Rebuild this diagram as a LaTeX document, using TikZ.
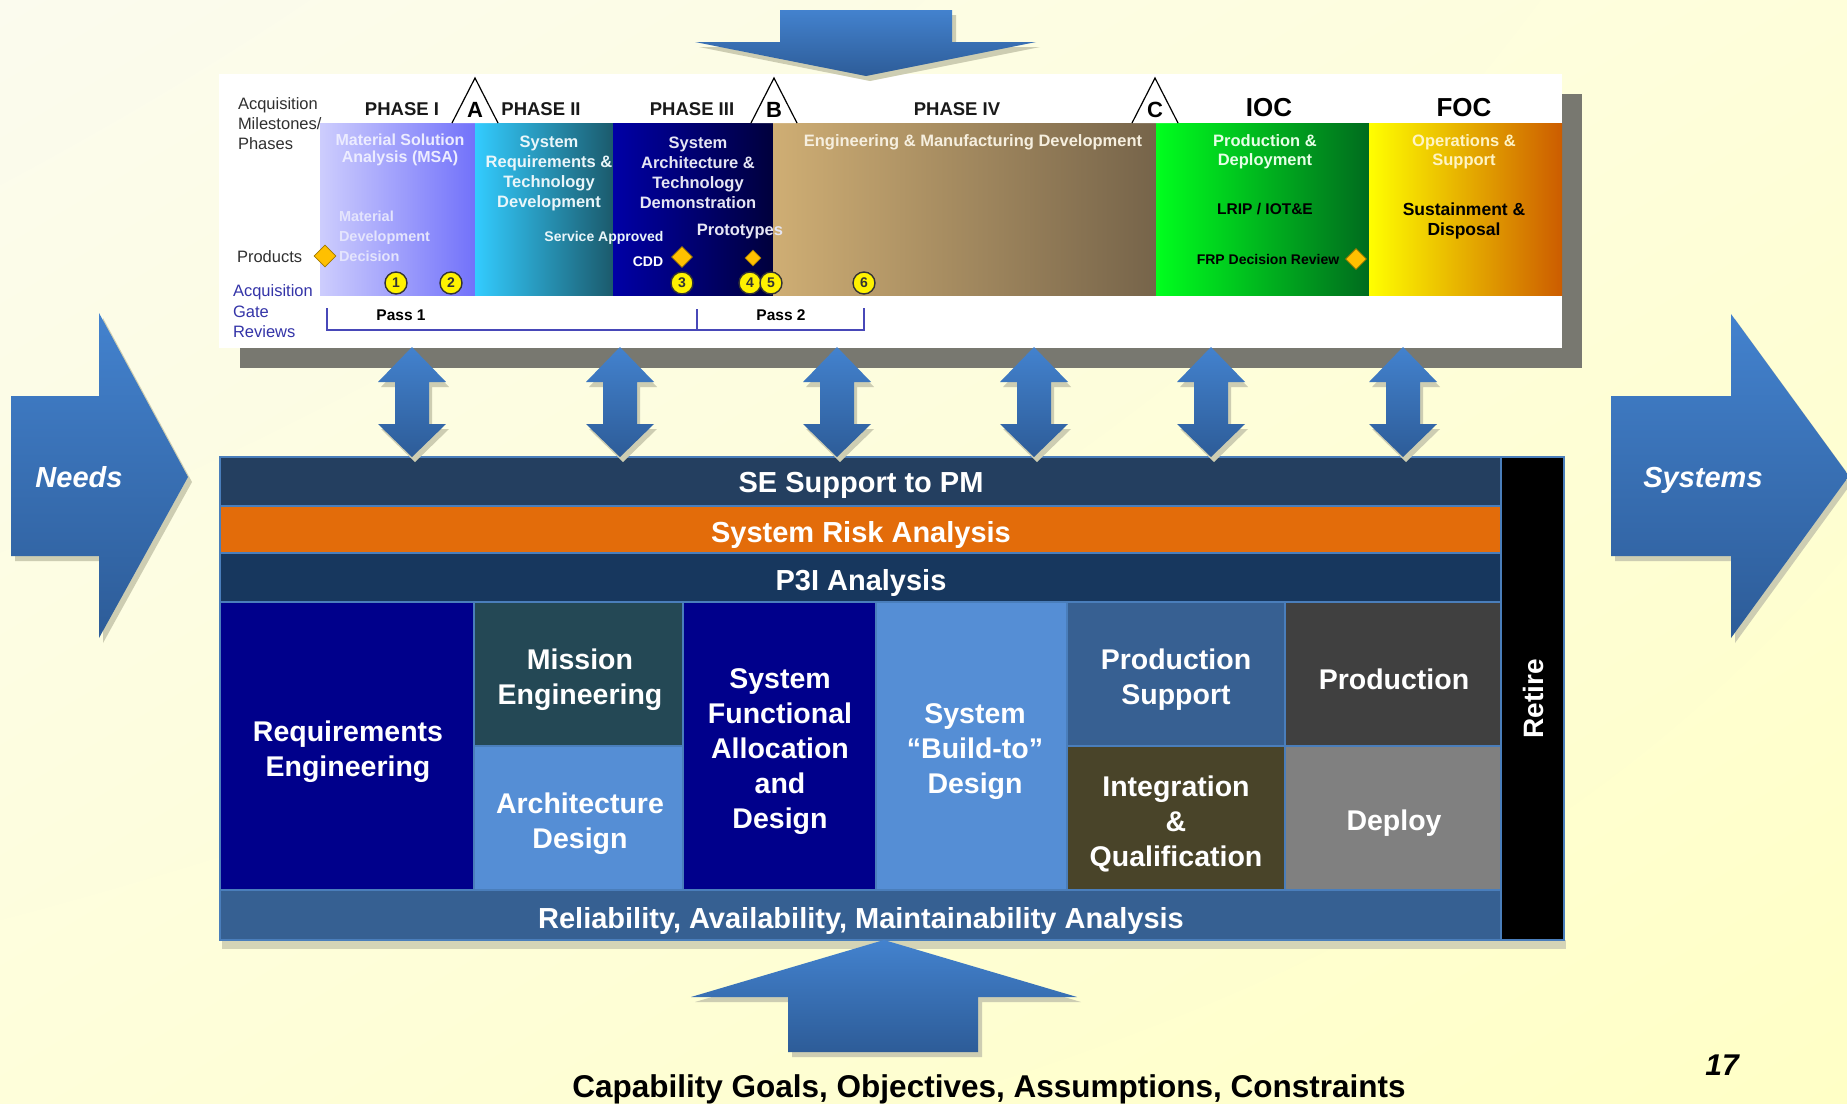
\documentclass[tikz,border=0pt]{standalone}
\usepackage{fontspec}
\setmainfont{Liberation Sans}
\usetikzlibrary{shapes.geometric,shadings}
\definecolor{bgA}{HTML}{FBFBEE}
\definecolor{bgB}{HTML}{FFFFC6}
\definecolor{bgM}{HTML}{FEFEDA}
\definecolor{arrA}{HTML}{4382CE}
\definecolor{arrB}{HTML}{2D5C98}
\definecolor{arrShadow}{HTML}{CDCDB2}
\definecolor{panelShadow}{HTML}{787870}
\definecolor{p1L}{HTML}{CDCDFD}
\definecolor{p1M}{HTML}{A2A2FF}
\definecolor{p1R}{HTML}{7272FA}
\definecolor{p2L}{HTML}{33CCFF}
\definecolor{p2R}{HTML}{1B5A6C}
\definecolor{p3L}{HTML}{0000A6}
\definecolor{p3R}{HTML}{00003C}
\definecolor{p4L}{HTML}{CFAE74}
\definecolor{p4R}{HTML}{76644A}
\definecolor{iocL}{HTML}{00FF1E}
\definecolor{iocR}{HTML}{006B1E}
\definecolor{focL}{HTML}{FFFF00}
\definecolor{focR}{HTML}{CC5C00}
\definecolor{gold}{HTML}{FFC000}
\definecolor{goldLine}{HTML}{A07800}
\definecolor{gateBlue}{HTML}{3434A8}
\definecolor{bracketC}{HTML}{4848B8}
\definecolor{labelGray}{HTML}{303030}
\definecolor{seC}{HTML}{243F60}
\definecolor{riskC}{HTML}{E36C0A}
\definecolor{p3iC}{HTML}{17375E}
\definecolor{navyC}{HTML}{00008B}
\definecolor{tealC}{HTML}{244855}
\definecolor{midBlue}{HTML}{558ED5}
\definecolor{prodSupC}{HTML}{376092}
\definecolor{oliveC}{HTML}{494429}
\definecolor{darkGrayC}{HTML}{404040}
\definecolor{grayC}{HTML}{808080}
\definecolor{ramC}{HTML}{366092}
\definecolor{cellLine}{HTML}{4A7EBB}
\definecolor{blockShadow}{HTML}{D4D4B6}
\definecolor{msaTxt}{HTML}{ECECFF}
\definecolor{mddTxt}{HTML}{E4E4FC}
\definecolor{p2Txt}{HTML}{EAF6FA}
\definecolor{p3Txt}{HTML}{E6E6F4}
\definecolor{p4Txt}{HTML}{F6EFDF}
\definecolor{iocTxt}{HTML}{E6FFE6}
\definecolor{focTxt}{HTML}{FFF4C4}
\newcommand\myfs[2]{\fontsize{#1}{#2}\selectfont}
\def\topArrowPath{(780,10) -- (952,10) -- (952,42) -- (1036,42) -- (866,76) -- (695,42) -- (780,42) -- cycle}
\def\needsPath{(11,396) -- (99,396) -- (99,313) -- (188,477) -- (99,638) -- (99,556) -- (11,556) -- cycle}
\def\systemsPath{(1611,396) -- (1731,396) -- (1731,314) -- (1849,476) -- (1731,638) -- (1731,556) -- (1611,556) -- cycle}
\def\bottomArrowPath{(884,940) -- (1077,997) -- (978,997) -- (978,1052) -- (788,1052) -- (788,997) -- (691,997) -- cycle}
\begin{document}
\begin{tikzpicture}[x=1pt,y=-1pt,
  tx/.style={inner sep=0pt,outer sep=0pt,align=center},
  hdr/.style={tx,font=\myfs{18.5}{20}\bfseries,text=black!90},
  bartext/.style={tx,font=\myfs{16.5}{20}\bfseries},
  sidelabel/.style={tx,font=\myfs{16.5}{19.5},align=left,anchor=west},
  numcircle/.style={circle,draw=black!80,line width=1.4pt,fill=yellow,minimum size=22pt,inner sep=0pt,font=\myfs{14}{14}\bfseries,text=black!80},
  gem/.style={diamond,draw=goldLine,line width=0.8pt,fill=gold,minimum width=#1,minimum height=#1,inner sep=0pt},
  bigtext/.style={tx,font=\myfs{28.5}{35}\bfseries,text=white},
  bandtext/.style={tx,font=\myfs{29}{35}\bfseries,text=white},
  cell/.style={draw=cellLine,line width=2pt},
  arrowfill/.style={top color=arrA,bottom color=arrB},
  arrowshadow/.style={fill=arrShadow},
  milestone/.style={fill=white,draw=black,line width=1.2pt,line join=miter},
  triletter/.style={tx,font=\myfs{22}{22}\bfseries}
]
\useasboundingbox (0,0) rectangle (1847,1103);
% background
\shade[upper left=bgA, upper right=bgM, lower left=bgM, lower right=bgB] (0,0) rectangle (1847,1103);

% ---------------- top panel ----------------
\fill[panelShadow] (240,94) rectangle (1582,368);
\fill[white] (219,74) rectangle (1562,348);

% side labels (drawn before bars)
\node[sidelabel,text=labelGray] (acq1) at (238,105) {Acquisition};
\node[sidelabel,text=labelGray] (acq2) at (238,124) {Milestones/};
\node[sidelabel,text=labelGray] (acq3) at (238,144) {Phases};
\node[sidelabel,text=labelGray] (prod) at (237,257) {Products};
\node[sidelabel,text=gateBlue] (gate1) at (233,292) {Acquisition};
\node[sidelabel,text=gateBlue] (gate2) at (233,312) {Gate};
\node[sidelabel,text=gateBlue] (gate3) at (233,332) {Reviews};

% phase bars
\shade[left color=p1L,middle color=p1M,right color=p1R] (320,123) rectangle (475,295);
\shade[left color=p2L,right color=p2R] (475,123) rectangle (613,295);
\shade[left color=p3L,right color=p3R] (613,123) rectangle (773,295);
\shade[left color=p4L,right color=p4R] (773,123) rectangle (1156,295);
\shade[left color=iocL,right color=iocR] (1156,123) rectangle (1369,295);
\shade[left color=focL,right color=focR] (1369,123) rectangle (1562,295);

% headers
\node[hdr] (ph1) at (402,109) {PHASE I};
\node[hdr] (ph2) at (541,109) {PHASE II};
\node[hdr] (ph3) at (692,109) {PHASE III};
\node[hdr] (ph4) at (957,109) {PHASE IV};
\node[tx,font=\myfs{26}{26}\bfseries] (ioc) at (1269,108) {IOC};
\node[tx,font=\myfs{26}{26}\bfseries] (foc) at (1464,108) {FOC};

% milestone triangles
\draw[milestone] (452,123) -- (475,78) -- (498,123);
\node[triletter] (msA) at (475,110) {A};
\draw[milestone] (751,123) -- (774,78) -- (797,123);
\node[triletter] (msB) at (774,110) {B};
\draw[milestone] (1132,123) -- (1155,78) -- (1178,123);
\node[triletter] (msC) at (1155,110) {C};

% bar texts
\node[tx,font=\myfs{16}{17}\bfseries,text=msaTxt] (msa) at (400,150) {Material Solution\\Analysis (MSA)};
\node[tx,font=\myfs{14.5}{20}\bfseries,text=mddTxt,align=left,anchor=west] (mdd) at (339,236) {Material\\Development\\Decision};
\node[bartext,text=p2Txt] (p2t) at (549,173) {System\\Requirements \&\\Technology\\Development};
\node[bartext,text=p3Txt] (p3t) at (698,173) {System\\Architecture \&\\Technology\\Demonstration};
\node[tx,font=\myfs{14}{16}\bfseries,text=p2Txt] (svc) at (604,238) {Service Approved};
\node[tx,font=\myfs{16.5}{18}\bfseries,text=p3Txt] (proto) at (740,232) {Prototypes};
\node[tx,font=\myfs{14}{16}\bfseries,text=white] (cdd) at (648,262) {CDD};
\node[tx,font=\myfs{16.5}{18}\bfseries,text=p4Txt] (emd) at (973,142) {Engineering \& Manufacturing Development};
\node[tx,font=\myfs{16.5}{19}\bfseries,text=iocTxt] (pd) at (1265,152) {Production \&\\Deployment};
\node[tx,font=\myfs{15.5}{18}\bfseries,text=black] (lrip) at (1265,209) {LRIP / IOT\&E};
\node[tx,font=\myfs{14}{16}\bfseries,text=black] (frp) at (1268,259) {FRP Decision Review};
\node[tx,font=\myfs{16.5}{19}\bfseries,text=focTxt] (os) at (1464,152) {Operations \&\\Support};
\node[tx,font=\myfs{17.5}{20}\bfseries,text=black] (sd) at (1464,221) {Sustainment \&\\Disposal};

% diamonds
\node[gem=22pt] (dProd) at (325,256) {};
\node[gem=21pt] (dCdd) at (682,257) {};
\node[gem=16pt] (dProto) at (753,258) {};
\node[gem=21pt] (dFrp) at (1356,259) {};

% numbered circles
\node[numcircle] (c1) at (396,283) {1};
\node[numcircle] (c2) at (451,283) {2};
\node[numcircle] (c3) at (682,283) {3};
\node[numcircle] (c4) at (750,283) {4};
\node[numcircle] (c5) at (771,283) {5};
\node[numcircle] (c6) at (864,283) {6};

% gate review bracket
\draw[bracketC,line width=2pt] (327,308) -- (327,330) -- (864,330) -- (864,308);
\draw[bracketC,line width=1.5pt] (697,309) -- (697,330);
\node[tx,font=\myfs{15.5}{17}\bfseries] (pass1) at (401,315) {Pass 1};
\node[tx,font=\myfs{15.5}{17}\bfseries] (pass2) at (781,315) {Pass 2};

% top arrow
\fill[arrowshadow,shift={(4,5)}] \topArrowPath;
\shade[arrowfill] \topArrowPath;

% ---------------- lower block ----------------
\fill[blockShadow] (222,940) rectangle (1566,949);
\filldraw[cell,fill=seC] (220,457) rectangle (1501,506);
\filldraw[cell,fill=riskC] (220,506) rectangle (1501,553);
\filldraw[cell,fill=p3iC] (220,553) rectangle (1501,602);
\filldraw[cell,fill=navyC] (220,602) rectangle (474,890);
\filldraw[cell,fill=tealC] (474,602) rectangle (683,746);
\filldraw[cell,fill=midBlue] (474,746) rectangle (683,890);
\filldraw[cell,fill=navyC] (683,602) rectangle (876,890);
\filldraw[cell,fill=midBlue] (876,602) rectangle (1067,890);
\filldraw[cell,fill=prodSupC] (1067,602) rectangle (1285,746);
\filldraw[cell,fill=oliveC] (1067,746) rectangle (1285,890);
\filldraw[cell,fill=darkGrayC] (1285,602) rectangle (1501,746);
\filldraw[cell,fill=grayC] (1285,746) rectangle (1501,890);
\filldraw[cell,fill=ramC] (220,890) rectangle (1501,940);
\filldraw[cell,fill=black] (1501,457) rectangle (1564,940);

\node[bandtext] (se) at (861,485.5) {SE Support to PM};
\node[bandtext] (risk) at (861,534.5) {System Risk Analysis};
\node[bandtext] (p3i) at (861,582.5) {P3I Analysis};
\node[bandtext] (ram) at (861,920.5) {Reliability, Availability, Maintainability Analysis};
\node[bigtext] (req) at (348,751.5) {Requirements\\Engineering};
\node[bigtext] (mission) at (580,679.5) {Mission\\Engineering};
\node[bigtext] (arch) at (580,823.5) {Architecture\\Design};
\node[bigtext] (sfad) at (780,751.5) {System\\Functional\\Allocation\\and\\Design};
\node[bigtext] (build) at (975,751.5) {System\\“Build-to”\\Design};
\node[bigtext] (psup) at (1176,679.5) {Production\\Support};
\node[bigtext] (iq) at (1176,823.5) {Integration\\\&\\Qualification};
\node[bigtext] (production) at (1394,679.5) {Production};
\node[bigtext] (deploy) at (1394,823.5) {Deploy};
\node[tx,font=\myfs{28}{30}\bfseries,text=white,rotate=90] (retire) at (1533,699) {Retire};

% double arrows between panel and block
\foreach \c [count=\i] in {412,620,837,1034,1211,1403}{
  \fill[arrowshadow,shift={(3,5)}] (\c,347) -- ({\c+34},382) -- ({\c+17},382) -- ({\c+17},424) -- ({\c+34},424) -- (\c,457) -- ({\c-34},424) -- ({\c-17},424) -- ({\c-17},382) -- ({\c-34},382) -- cycle;
  \shade[arrowfill] (\c,347) -- ({\c+34},382) -- ({\c+17},382) -- ({\c+17},424) -- ({\c+34},424) -- (\c,457) -- ({\c-34},424) -- ({\c-17},424) -- ({\c-17},382) -- ({\c-34},382) -- cycle;
}

% side arrows
\fill[arrowshadow,shift={(4,5)}] \needsPath;
\shade[arrowfill] \needsPath;
\node[tx,font=\myfs{29}{30}\bfseries\itshape,text=white,anchor=base] (needs) at (79,487) {Needs};
\fill[arrowshadow,shift={(4,5)}] \systemsPath;
\shade[arrowfill] \systemsPath;
\node[tx,font=\myfs{29}{30}\bfseries\itshape,text=white,anchor=base] (systems) at (1703,487) {Systems};

% bottom arrow and caption
\fill[arrowshadow,shift={(4,5)}] \bottomArrowPath;
\shade[arrowfill] \bottomArrowPath;
\node[tx,font=\myfs{31.5}{32}\bfseries,anchor=base] (caption) at (989,1097) {Capability Goals, Objectives, Assumptions, Constraints};
\node[tx,font=\myfs{30}{30}\bfseries\itshape,anchor=base] (pagenum) at (1722,1075) {17};
\end{tikzpicture}
\end{document}
